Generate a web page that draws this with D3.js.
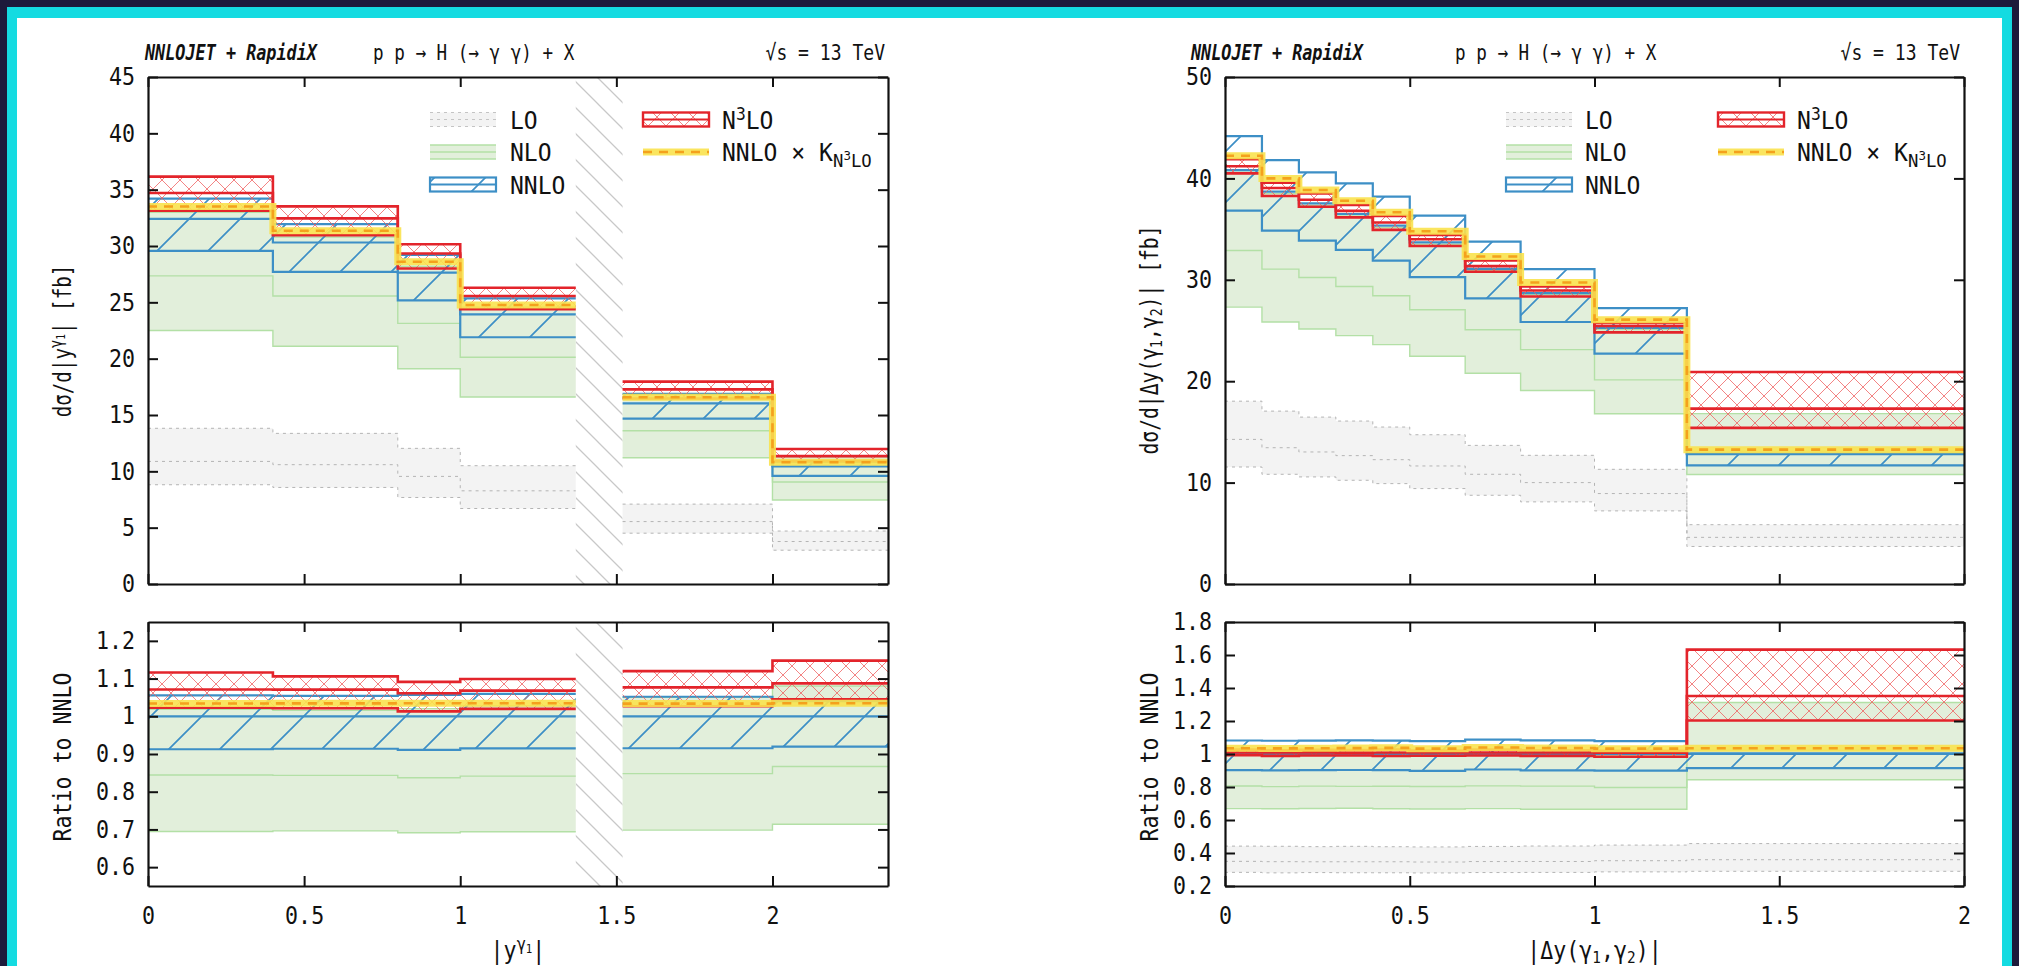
<!DOCTYPE html>
<html><head><meta charset="utf-8">
<script src="https://cdn.jsdelivr.net/npm/d3@7"></script>
<style>
html,body{margin:0;padding:0;background:#1d1b3b;overflow:hidden}
svg{display:block}
text{font-family:"DejaVu Sans Mono",monospace;fill:#111}
</style></head><body>
<svg id="c" width="2019" height="966"></svg>
<script>
// ---------------- DATA ----------------
// Left: |y^gamma1| bins (crack region 1.37-1.52 excluded)
const yBins = [[0,0.4],[0.4,0.8],[0.8,1.0],[1.0,1.37],[1.52,2.0],[2.0,2.37]];
const yLO_hi  = [13.82, 13.37, 12.04, 10.5, 7.09, 4.7];
const yLO_c   = [10.88, 10.59, 9.55, 8.27, 5.54, 3.77];
const yLO_lo  = [8.81, 8.57, 7.68, 6.7, 4.51, 3.0];
const yNLO_hi = [33.0, 30.8, 28.2, 24.6, 16.85, 11.28];
const yNLO_c  = [27.35, 25.56, 23.13, 20.13, 13.6, 9.05];
const yNLO_lo = [22.5, 21.1, 19.1, 16.6, 11.2, 7.45];
const yNNLO_hi= [34.2, 31.95, 29.2, 25.35, 16.87, 10.86];
const yNNLO_c = [32.4, 30.31, 27.64, 23.93, 16.04, 10.44];
const yNNLO_lo= [29.57, 27.7, 25.18, 21.9, 14.68, 9.6];
const yN3LO_hi= [36.16, 33.52, 30.16, 26.3, 17.96, 11.98];
const yN3LO_c = [34.7, 32.45, 29.33, 25.56, 17.27, 11.35];
const yN3LO_lo= [33.13, 30.95, 28.0, 24.4, 16.47, 10.91];
const yK      = [33.5, 31.35, 28.6, 24.76, 16.58, 10.8];

// Right: |Delta y(gamma1,gamma2)| bins
const dBins = [[0,0.1],[0.1,0.2],[0.2,0.3],[0.3,0.4],[0.4,0.5],[0.5,0.65],[0.65,0.8],[0.8,1.0],[1.0,1.25],[1.25,2.0]];
const dLO_hi  = [18.03, 17.05, 16.46, 16.07, 15.48, 14.72, 13.67, 12.69, 11.31, 5.85];
const dLO_c   = [14.26, 13.44, 13.02, 12.66, 12.26, 11.64, 10.82, 10.0, 8.92, 4.6];
const dLO_lo  = [11.54, 10.82, 10.56, 10.23, 9.9, 9.41, 8.75, 8.1, 7.21, 3.7];
const dNLO_hi = [40.6, 38.5, 37.35, 36.3, 35.15, 33.5, 30.9, 28.55, 25.1, 16.8];
const dNLO_c  = [32.89, 31.05, 30.23, 29.34, 28.43, 27.05, 25.08, 23.11, 20.13, 13.1];
const dNLO_lo = [27.31, 25.84, 25.15, 24.49, 23.61, 22.46, 20.79, 19.08, 16.79, 10.8];
const dNNLO_hi= [44.16, 41.8, 40.59, 39.51, 38.2, 36.33, 33.77, 31.05, 27.21, 12.85];
const dNNLO_c = [40.82, 38.69, 37.54, 36.49, 35.34, 33.7, 31.08, 28.69, 25.25, 12.8];
const dNNLO_lo= [36.82, 34.85, 33.87, 32.95, 31.9, 30.26, 28.16, 25.84, 22.72, 11.7];
const dN3LO_hi= [41.9, 39.57, 38.52, 37.38, 36.3, 34.43, 31.9, 29.34, 25.74, 20.9];
const dN3LO_c = [41.2, 39.05, 37.9, 36.8, 35.65, 34.0, 31.35, 28.95, 25.45, 17.3];
const dN3LO_lo= [40.5, 38.26, 37.21, 36.16, 34.92, 33.34, 30.79, 28.36, 24.82, 15.4];
const dK      = [42.23, 40.0, 38.85, 37.8, 36.66, 34.79, 32.3, 29.74, 26.07, 13.25];

// Ticks
const xTicksL = [0, 0.5, 1, 1.5, 2];
const xTicksR = [0, 0.5, 1, 1.5, 2];
const yTicksLtop = [0,5,10,15,20,25,30,35,40,45];
const yTicksLrat = [0.6,0.7,0.8,0.9,1,1.1,1.2];
const yTicksRtop = [0,10,20,30,40,50];
const yTicksRrat = [0.2,0.4,0.6,0.8,1,1.2,1.4,1.6,1.8];
const crack = [1.37, 1.52];
const legendNames = ["LO","NLO","NNLO"];

// ---------------- DRAWING ----------------
const S = d3.select("#c");
S.append("rect").attr("x",7).attr("y",7).attr("width",2005).attr("height",980).attr("fill","#14dbe1");
S.append("rect").attr("x",17).attr("y",18).attr("width",1985).attr("height",980).attr("fill","#ffffff");

const defs = S.append("defs");
const pB = defs.append("pattern").attr("id","hatchB").attr("patternUnits","userSpaceOnUse").attr("width",51).attr("height",51);
pB.append("path").attr("d","M0,51L51,0M-6,6L6,-6M45,57L57,45").attr("stroke","#3d8fc6").attr("stroke-width",1.7).attr("fill","none");
const pX = defs.append("pattern").attr("id","crossR").attr("patternUnits","userSpaceOnUse").attr("width",18).attr("height",18);
pX.append("path").attr("d","M0,0L18,18M18,0L0,18").attr("stroke","#ee5a5a").attr("stroke-opacity",0.75).attr("stroke-width",1).attr("fill","none");
const pG = defs.append("pattern").attr("id","gapH").attr("patternUnits","userSpaceOnUse").attr("width",26).attr("height",26);
pG.append("path").attr("d","M0,0L26,26M-4,22L4,30M22,-4L30,4").attr("stroke","#c8c8c8").attr("stroke-width",1.3).attr("fill","none");

function condense(sel, f){
  sel.each(function(){
    const L = this.getComputedTextLength();
    this.setAttribute("textLength", L*f);
    this.setAttribute("lengthAdjust","spacingAndGlyphs");
  });
}

function segmentsOf(bins){
  const segs=[]; let s=0;
  for(let i=1;i<bins.length;i++){ if(Math.abs(bins[i][0]-bins[i-1][1])>1e-9){ segs.push([s,i-1]); s=i; } }
  segs.push([s,bins.length-1]); return segs;
}
function linePath(bins,v,x,y){
  return segmentsOf(bins).map(([a,b])=>{
    let d=`M${x(bins[a][0])},${y(v[a])}`;
    for(let k=a;k<=b;k++){ d+=`H${x(bins[k][1])}`; if(k<b) d+=`V${y(v[k+1])}`; }
    return d;
  }).join("");
}
function areaPath(bins,hi,lo,x,y){
  return segmentsOf(bins).map(([a,b])=>{
    let d=`M${x(bins[a][0])},${y(hi[a])}`;
    for(let k=a;k<=b;k++){ d+=`H${x(bins[k][1])}`; if(k<b) d+=`V${y(hi[k+1])}`; }
    d+=`V${y(lo[b])}`;
    for(let k=b;k>=a;k--){ d+=`H${x(bins[k][0])}`; if(k>a) d+=`V${y(lo[k-1])}`; }
    return d+"Z";
  }).join("");
}

let clipN=0;
function panel(bins, D, x, y, norm, withCrack){
  const id="clip"+(clipN++);
  const [x0,x1]=x.range(), [y0,y1]=[y.range()[1], y.range()[0]];
  defs.append("clipPath").attr("id",id).append("rect").attr("x",x0).attr("y",y0).attr("width",x1-x0).attr("height",y1-y0);
  const g=S.append("g").attr("clip-path",`url(#${id})`);
  const f = a => norm ? a.map((v,i)=>v/norm[i]) : a;
  if(withCrack){
    g.append("rect").attr("x",x(crack[0])).attr("y",y0).attr("width",x(crack[1])-x(crack[0])).attr("height",y1-y0).attr("fill","url(#gapH)");
  }
  g.append("path").attr("d",areaPath(bins,f(D.LO_hi),f(D.LO_lo),x,y)).attr("fill","#f3f3f3");
  [D.LO_hi,D.LO_c,D.LO_lo].forEach(a=>g.append("path").attr("d",linePath(bins,f(a),x,y)).attr("fill","none").attr("stroke","#b4b4b4").attr("stroke-width",1).attr("stroke-dasharray","3,4"));
  g.append("path").attr("d",areaPath(bins,f(D.NLO_hi),f(D.NLO_lo),x,y)).attr("fill","#e2efdb");
  [D.NLO_hi,D.NLO_c,D.NLO_lo].forEach(a=>g.append("path").attr("d",linePath(bins,f(a),x,y)).attr("fill","none").attr("stroke","#b3e0a6").attr("stroke-width",1.4));
  g.append("path").attr("d",areaPath(bins,f(D.NNLO_hi),f(D.NNLO_lo),x,y)).attr("fill","url(#hatchB)");
  [D.NNLO_hi,D.NNLO_c,D.NNLO_lo].forEach(a=>g.append("path").attr("d",linePath(bins,f(a),x,y)).attr("fill","none").attr("stroke","#3d8fc6").attr("stroke-width",2.2));
  g.append("path").attr("d",areaPath(bins,f(D.N3LO_hi),f(D.N3LO_lo),x,y)).attr("fill","url(#crossR)");
  [D.N3LO_hi,D.N3LO_c,D.N3LO_lo].forEach(a=>g.append("path").attr("d",linePath(bins,f(a),x,y)).attr("fill","none").attr("stroke","#e3242b").attr("stroke-width",2.6));
  const kp=linePath(bins,f(D.K),x,y);
  g.append("path").attr("d",kp).attr("fill","none").attr("stroke","#f9e24e").attr("stroke-opacity",0.9).attr("stroke-width",7);
  g.append("path").attr("d",kp).attr("fill","none").attr("stroke","#f4a11d").attr("stroke-width",2.6).attr("stroke-dasharray","9,7");
}

function frame(x, y, xt, yt, xLabels){
  const fmt = d3.format("~g");
  const [x0,x1]=x.range(), yb=y.range()[0], yt0=y.range()[1];
  const bottom=S.append("g").attr("transform",`translate(0,${yb})`).call(d3.axisBottom(x).tickValues(xt).tickSizeInner(-10).tickSizeOuter(0).tickPadding(21).tickFormat(fmt));
  if(!xLabels) bottom.selectAll("text").remove();
  const top=S.append("g").attr("transform",`translate(0,${yt0})`).call(d3.axisTop(x).tickValues(xt).tickSizeInner(-10).tickSizeOuter(0));
  top.selectAll("text").remove();
  const left=S.append("g").attr("transform",`translate(${x0},0)`).call(d3.axisLeft(y).tickValues(yt).tickSizeInner(-10).tickSizeOuter(0).tickPadding(13).tickFormat(fmt));
  const right=S.append("g").attr("transform",`translate(${x1},0)`).call(d3.axisRight(y).tickValues(yt).tickSizeInner(-10).tickSizeOuter(0));
  right.selectAll("text").remove();
  [bottom,top,left,right].forEach(a=>{
    a.attr("font-size",null).attr("font-family",null);
    a.selectAll(".domain").attr("stroke","#111").attr("stroke-width",2.2);
    a.selectAll(".tick line").attr("stroke","#111").attr("stroke-width",2);
    a.selectAll("text").attr("font-size",24).attr("fill","#111");
    condense(a.selectAll("text"),0.9);
  });
}

const xL = d3.scaleLinear().domain([0,2.37]).range([148,888]);
const yLt = d3.scaleLinear().domain([0,45]).range([584,77]);
const yLr = d3.scaleLinear().domain([0.55,1.25]).range([886,622]);
const xR = d3.scaleLinear().domain([0,2]).range([1225,1964]);
const yRt = d3.scaleLinear().domain([0,50]).range([584,77]);
const yRr = d3.scaleLinear().domain([0.2,1.8]).range([886,622]);

const DL={LO_hi:yLO_hi,LO_c:yLO_c,LO_lo:yLO_lo,NLO_hi:yNLO_hi,NLO_c:yNLO_c,NLO_lo:yNLO_lo,NNLO_hi:yNNLO_hi,NNLO_c:yNNLO_c,NNLO_lo:yNNLO_lo,N3LO_hi:yN3LO_hi,N3LO_c:yN3LO_c,N3LO_lo:yN3LO_lo,K:yK};
const DR={LO_hi:dLO_hi,LO_c:dLO_c,LO_lo:dLO_lo,NLO_hi:dNLO_hi,NLO_c:dNLO_c,NLO_lo:dNLO_lo,NNLO_hi:dNNLO_hi,NNLO_c:dNNLO_c,NNLO_lo:dNNLO_lo,N3LO_hi:dN3LO_hi,N3LO_c:dN3LO_c,N3LO_lo:dN3LO_lo,K:dK};

panel(yBins, DL, xL, yLt, null, true);
panel(yBins, DL, xL, yLr, yNNLO_c, true);
panel(dBins, DR, xR, yRt, null, false);
panel(dBins, DR, xR, yRr, dNNLO_c, false);
frame(xL, yLt, xTicksL, yTicksLtop, false);
frame(xL, yLr, xTicksL, yTicksLrat, true);
frame(xR, yRt, xTicksR, yTicksRtop, false);
frame(xR, yRr, xTicksR, yTicksRrat, true);

function legend(sx, lx, sx2, lx2){
  const rows=[119.5,152,184.5], w=66, h=14;
  const lg=S.append("g");
  lg.append("rect").attr("x",sx).attr("y",rows[0]-h/2).attr("width",w).attr("height",h).attr("fill","#f3f3f3");
  [-h/2,0,h/2].forEach(o=>lg.append("line").attr("x1",sx).attr("x2",sx+w).attr("y1",rows[0]+o).attr("y2",rows[0]+o).attr("stroke","#c4c4c4").attr("stroke-dasharray","3,4"));
  lg.append("rect").attr("x",sx).attr("y",rows[1]-h/2).attr("width",w).attr("height",h).attr("fill","#e2efdb");
  [-h/2,0,h/2].forEach(o=>lg.append("line").attr("x1",sx).attr("x2",sx+w).attr("y1",rows[1]+o).attr("y2",rows[1]+o).attr("stroke","#b3e0a6").attr("stroke-width",1.4));
  lg.append("rect").attr("x",sx).attr("y",rows[2]-h/2).attr("width",w).attr("height",h).attr("fill","url(#hatchB)").attr("stroke","#3d8fc6").attr("stroke-width",2.2);
  lg.append("line").attr("x1",sx).attr("x2",sx+w).attr("y1",rows[2]).attr("y2",rows[2]).attr("stroke","#3d8fc6").attr("stroke-width",2.2);
  legendNames.forEach((n,i)=>lg.append("text").attr("x",lx).attr("y",rows[i]+9).attr("font-size",24).text(n));
  lg.append("rect").attr("x",sx2).attr("y",rows[0]-h/2).attr("width",w).attr("height",h).attr("fill","url(#crossR)").attr("stroke","#e3242b").attr("stroke-width",2.4);
  lg.append("line").attr("x1",sx2).attr("x2",sx2+w).attr("y1",rows[0]).attr("y2",rows[0]).attr("stroke","#e3242b").attr("stroke-width",2.2);
  const t1=lg.append("text").attr("x",lx2).attr("y",rows[0]+9).attr("font-size",24);
  t1.append("tspan").text("N"); t1.append("tspan").attr("dy",-9).attr("font-size",17).text("3"); t1.append("tspan").attr("dy",9).text("LO");
  lg.append("line").attr("x1",sx2).attr("x2",sx2+w).attr("y1",rows[1]).attr("y2",rows[1]).attr("stroke","#f9e24e").attr("stroke-width",7).attr("stroke-opacity",0.9);
  lg.append("line").attr("x1",sx2).attr("x2",sx2+w).attr("y1",rows[1]).attr("y2",rows[1]).attr("stroke","#f4a11d").attr("stroke-width",2.6).attr("stroke-dasharray","9,7");
  const t2=lg.append("text").attr("x",lx2).attr("y",rows[1]+9).attr("font-size",24);
  t2.append("tspan").text("NNLO × K");
  t2.append("tspan").attr("dy",6).attr("font-size",18).text("N");
  t2.append("tspan").attr("dy",-7).attr("font-size",13).text("3");
  t2.append("tspan").attr("dy",7).attr("font-size",18).text("LO");
  condense(lg.selectAll("text"),0.96);
}
legend(430,510,643,722);
legend(1506,1585,1718,1797);

function titles(x1,x2,x3){
  const a=S.append("text").attr("x",x1).attr("y",60).attr("font-size",21).attr("font-weight","bold").attr("font-style","italic").text("NNLOJET + RapidiX");
  const b=S.append("text").attr("x",x2).attr("y",60).attr("font-size",22).text("p p → H (→ γ γ) + X");
  const c=S.append("text").attr("x",x3).attr("y",60).attr("font-size",22).attr("text-anchor","end").text("√s = 13 TeV");
  condense(a,0.8); condense(b,0.8); condense(c,0.82);
}
titles(145,373,885);
titles(1191,1455,1960);

function ylab(x,y,f,build){
  const t=S.append("text").attr("transform",`translate(${x},${y}) rotate(-90)`).attr("text-anchor","middle").attr("font-size",24);
  build(t); condense(t,f);
}
ylab(71,341,0.8,t=>{ t.append("tspan").text("dσ/d|y"); t.append("tspan").attr("dy",-9).attr("font-size",17).text("γ"); t.append("tspan").attr("dy",3).attr("font-size",12).text("1"); t.append("tspan").attr("dy",6).text("| [fb]"); });
ylab(71,757,0.9,t=>t.text("Ratio to NNLO"));
ylab(1158,340,0.82,t=>{ t.append("tspan").text("dσ/d|Δy(γ"); t.append("tspan").attr("dy",4).attr("font-size",16).text("1"); t.append("tspan").attr("dy",-4).text(",γ"); t.append("tspan").attr("dy",4).attr("font-size",16).text("2"); t.append("tspan").attr("dy",-4).text(")| [fb]"); });
ylab(1158,757,0.9,t=>t.text("Ratio to NNLO"));

const xl1=S.append("text").attr("x",(xL.range()[0]+xL.range()[1])/2).attr("y",959).attr("text-anchor","middle").attr("font-size",24);
xl1.append("tspan").text("|y"); xl1.append("tspan").attr("dy",-9).attr("font-size",17).text("γ"); xl1.append("tspan").attr("dy",3).attr("font-size",12).text("1"); xl1.append("tspan").attr("dy",6).text("|");
condense(xl1,0.9);
const xl2=S.append("text").attr("x",(xR.range()[0]+xR.range()[1])/2).attr("y",959).attr("text-anchor","middle").attr("font-size",24);
xl2.append("tspan").text("|Δy(γ"); xl2.append("tspan").attr("dy",4).attr("font-size",16).text("1"); xl2.append("tspan").attr("dy",-4).text(",γ"); xl2.append("tspan").attr("dy",4).attr("font-size",16).text("2"); xl2.append("tspan").attr("dy",-4).text(")|");
condense(xl2,0.9);
</script>
</body></html>
